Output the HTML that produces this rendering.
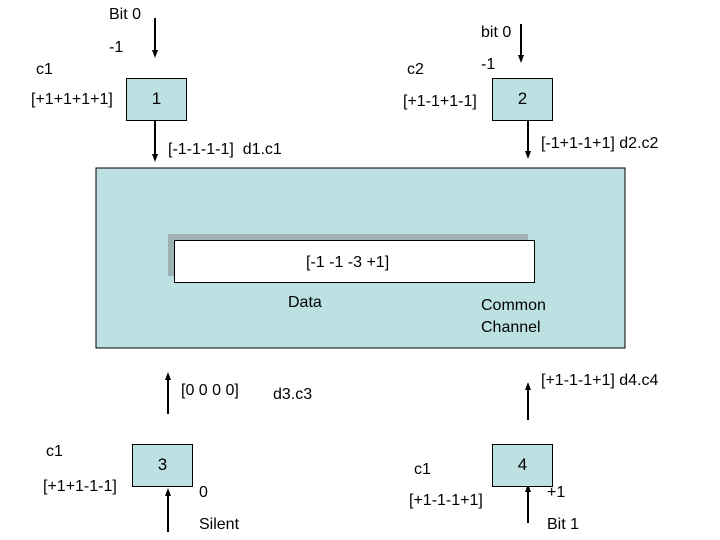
<!DOCTYPE html>
<html><head><style>
body{margin:0;width:720px;height:540px;background:#fff;position:relative;overflow:hidden;font-family:"Liberation Sans",Arial,sans-serif;font-size:16px;color:#000}
.t{position:absolute;white-space:nowrap;line-height:1}
.b{position:absolute;background:#bde0e3;border:1px solid #000;box-sizing:border-box;text-align:center;font-size:17px}
</style></head><body>
<svg width="720" height="540" style="position:absolute;left:0;top:0">
<defs><marker id="a" markerWidth="8" markerHeight="8" refX="4" refY="4" orient="auto" markerUnits="userSpaceOnUse"><path d="M0,1 L8,4 L0,7 z" fill="#000"/></marker></defs>
<rect x="96" y="168" width="529" height="180" fill="#bde0e3" stroke="#000" stroke-width="1"/>
<rect x="168" y="234" width="360" height="42" fill="#9fb0b2"/>
<rect x="174.5" y="240.5" width="360" height="42" fill="#fff" stroke="#000" stroke-width="1"/>
<g stroke="#000" stroke-width="2" fill="none">
<line x1="155" y1="18" x2="155" y2="54" marker-end="url(#a)"/>
<line x1="155" y1="121" x2="155" y2="158" marker-end="url(#a)"/>
<line x1="521" y1="24" x2="521" y2="59" marker-end="url(#a)"/>
<line x1="528" y1="121" x2="528" y2="155" marker-end="url(#a)"/>
<line x1="168" y1="414" x2="168" y2="376" marker-end="url(#a)"/>
<line x1="168" y1="532" x2="168" y2="492" marker-end="url(#a)"/>
<line x1="528" y1="420" x2="528" y2="386" marker-end="url(#a)"/>
<line x1="528" y1="523" x2="528" y2="488" marker-end="url(#a)"/>
</g>
</svg>
<div class="b" style="left:126px;top:78px;width:61px;height:43px;line-height:40px">1</div>
<div class="b" style="left:492px;top:78px;width:61px;height:43px;line-height:40px">2</div>
<div class="b" style="left:132px;top:444px;width:61px;height:43px;line-height:40px">3</div>
<div class="b" style="left:492px;top:444px;width:61px;height:43px;line-height:40px">4</div>
<div class="t" style="left:109px;top:7px">Bit 0</div>
<div class="t" style="left:109px;top:40px">-1</div>
<div class="t" style="left:36px;top:62px">c1</div>
<div class="t" style="left:31px;top:92px">[+1+1+1+1]</div>
<div class="t" style="left:168px;top:142px">[-1-1-1-1]&nbsp; d1.c1</div>
<div class="t" style="left:481px;top:25px">bit 0</div>
<div class="t" style="left:407px;top:62px">c2</div>
<div class="t" style="left:481px;top:57px">-1</div>
<div class="t" style="left:403px;top:94px">[+1-1+1-1]</div>
<div class="t" style="left:541px;top:136px">[-1+1-1+1] d2.c2</div>
<div class="t" style="left:306px;top:255px">[-1 -1 -3 +1]</div>
<div class="t" style="left:288px;top:295px">Data</div>
<div class="t" style="left:481px;top:295px;line-height:22px">Common<br>Channel</div>
<div class="t" style="left:181px;top:383px">[0 0 0 0]</div>
<div class="t" style="left:273px;top:387px">d3.c3</div>
<div class="t" style="left:46px;top:444px">c1</div>
<div class="t" style="left:43px;top:479px">[+1+1-1-1]</div>
<div class="t" style="left:199px;top:485px">0</div>
<div class="t" style="left:199px;top:517px">Silent</div>
<div class="t" style="left:541px;top:373px">[+1-1-1+1] d4.c4</div>
<div class="t" style="left:414px;top:462px">c1</div>
<div class="t" style="left:409px;top:493px">[+1-1-1+1]</div>
<div class="t" style="left:547px;top:485px">+1</div>
<div class="t" style="left:547px;top:517px">Bit 1</div>
</body></html>
